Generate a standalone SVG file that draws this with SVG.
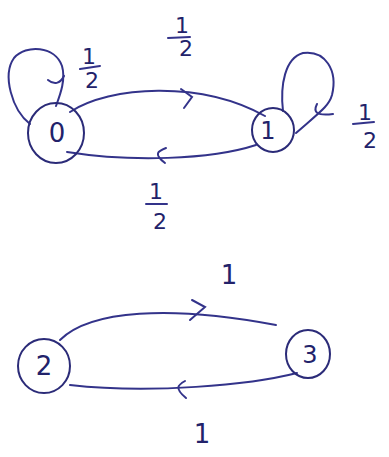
<svg xmlns="http://www.w3.org/2000/svg" width="389" height="457" viewBox="0 0 389 457">
<style>
.n{fill:none;stroke:#2b2b78;stroke-width:2}
.e{fill:none;stroke:#33338a;stroke-width:2;stroke-linecap:round}
.t{font-family:"DejaVu Sans","Liberation Sans",sans-serif;fill:#22226a;text-anchor:middle}
.lb{font-size:22px}
</style>
<rect width="389" height="457" fill="#ffffff"/>
<g id="connectors">
<path class="e" d="M30,124 C12,110 2,75 14,58 C26,44 55,46 62,66 C66,80 60,95 56,106"/>
<path class="e" d="M48,80 C54,85 60,84 64,76"/>
<path class="e" d="M70,112 C110,86 200,80 265,116"/>
<path class="e" d="M181,89 L192,97 L184,108"/>
<path class="e" d="M256,145 C210,160 130,162 67,152"/>
<path class="e" d="M166,148 C158,151 153,154 165,163"/>
<path class="e" d="M283,111 C280,85 285,58 303,53 C325,50 338,70 332,95 C329,106 320,112 296,133"/>
<path class="e" d="M317,104 C313,112 316,116 333,114"/>
<path class="e" d="M60,340 C90,310 170,305 276,325"/>
<path class="e" d="M192,300 L205,307 L190,320"/>
<path class="e" d="M297,373 C250,385 150,394 70,385"/>
<path class="e" d="M185,381 C178,385 174,388 186,398"/>
</g>
<g id="node0">
<ellipse class="n" cx="56" cy="133" rx="28" ry="30"/>
<text class="t" x="57" y="142" font-size="26">0</text>
</g>
<g id="node1">
<ellipse class="n" cx="273" cy="130" rx="21" ry="22"/>
<text class="t" x="268" y="139" font-size="24">1</text>
</g>
<g id="node2">
<ellipse class="n" cx="44" cy="366" rx="26" ry="27"/>
<text class="t" x="44" y="375" font-size="26">2</text>
</g>
<g id="node3">
<ellipse class="n" cx="308" cy="354" rx="22" ry="24"/>
<text class="t" x="310" y="363" font-size="24">3</text>
</g>
<g id="labels">
<text class="t lb" x="89" y="64">1</text>
<line class="e" x1="80" y1="69" x2="100" y2="66"/>
<text class="t lb" x="92" y="88">2</text>
<text class="t lb" x="182" y="33">1</text>
<line class="e" x1="168" y1="38" x2="190" y2="37"/>
<text class="t lb" x="186" y="56">2</text>
<text class="t lb" x="156" y="199">1</text>
<line class="e" x1="146" y1="204" x2="167" y2="204"/>
<text class="t lb" x="160" y="229">2</text>
<text class="t lb" x="365" y="120">1</text>
<line class="e" x1="353" y1="124" x2="374" y2="122"/>
<text class="t lb" x="370" y="148">2</text>
<text class="t" x="229" y="284" font-size="26">1</text>
<text class="t" x="202" y="443" font-size="26">1</text>
</g>
</svg>
